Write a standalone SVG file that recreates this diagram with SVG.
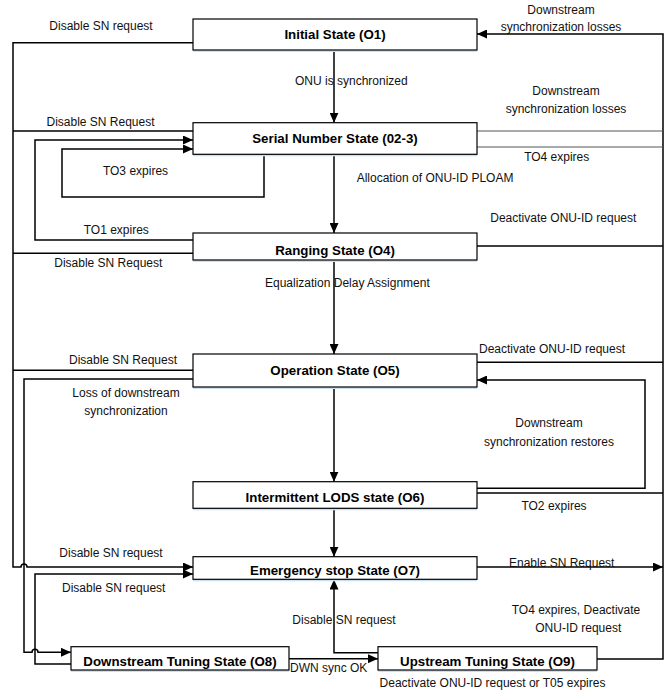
<svg xmlns="http://www.w3.org/2000/svg" width="670" height="695" viewBox="0 0 670 695">
<defs>
<marker id="ah" markerUnits="userSpaceOnUse" markerWidth="10" markerHeight="9" refX="10" refY="4.5" orient="auto">
<path d="M0,0 L10,4.5 L0,9 z" fill="#000"/>
</marker>
<style>
.box{fill:#fff;stroke:#000;stroke-width:1.2}
.sh{fill:#cfdff3}
.t{font-family:"Liberation Sans",Arial,sans-serif;font-size:13.3px;font-weight:bold;text-anchor:middle;fill:#000}
.l{font-family:"Liberation Sans",Arial,sans-serif;font-size:12px;fill:#111}
.m{text-anchor:middle}
.c{fill:none;stroke:#000;stroke-width:1.5}
.g{fill:none;stroke:#555;stroke-width:1}
.a{marker-end:url(#ah)}
</style>
</defs>
<rect width="670" height="695" fill="#fff"/>
<g id="connectors">
<path class="c a" d="M334,50 V122.7"/>
<path class="c a" d="M334,154.3 V233"/>
<path class="c a" d="M334,260 V354"/>
<path class="c a" d="M334,387 V481.7"/>
<path class="c a" d="M334,508.3 V556.7"/>
<path class="c a" d="M193,42.7 H13 V567 H21 A3,3 0 0 1 27,567 H193"/>
<path class="c" d="M193,131 H13"/>
<path class="c" d="M193,253.3 H13"/>
<path class="c" d="M193,370.3 H13"/>
<path class="c a" d="M193,379 H24 V652.3 H32 A3,3 0 0 1 38,652.3 H71"/>
<path class="c a" d="M71,664 H35 V574 H193"/>
<path class="c a" d="M193,240 H35 V140 H193"/>
<path class="c a" d="M264,154.3 V197 H62 V149 H193"/>
<path class="c a" d="M597,659 H663 V34 H477"/>
<path class="g" d="M477,131 H663"/>
<path class="g" d="M477,147 H663"/>
<path class="c" d="M477,246 H663"/>
<path class="c" d="M477,362.3 H663"/>
<path class="c" d="M477,493 H663"/>
<path class="c a" d="M477,567 H663"/>
<path class="c a" d="M477,488.3 H645 V380 H477"/>
<path class="c a" d="M378,652.7 H334 V579.5"/>
<path class="c a" d="M289,658.7 H378"/>
</g>
<g id="O1"><rect class="sh" x="193" y="21" width="284" height="31"/><rect class="box" x="193" y="19" width="284" height="31"/><text class="t" x="335" y="39">Initial State (O1)</text></g>
<g id="O2"><rect class="sh" x="193" y="124.7" width="284" height="31.6"/><rect class="box" x="193" y="122.7" width="284" height="31.6"/><text class="t" x="335" y="143">Serial Number State (02-3)</text></g>
<g id="O4"><rect class="sh" x="193" y="235" width="284" height="27"/><rect class="box" x="193" y="233" width="284" height="27"/><text class="t" x="335" y="254.5">Ranging State (O4)</text></g>
<g id="O5"><rect class="sh" x="193" y="356" width="284" height="33"/><rect class="box" x="193" y="354" width="284" height="33"/><text class="t" x="335" y="374.5">Operation State (O5)</text></g>
<g id="O6"><rect class="sh" x="193" y="483.7" width="284" height="26.6"/><rect class="box" x="193" y="481.7" width="284" height="26.6"/><text class="t" x="335" y="502">Intermittent LODS state (O6)</text></g>
<g id="O7"><rect class="sh" x="193" y="558.7" width="284" height="22.6"/><rect class="box" x="193" y="556.7" width="284" height="22.6"/><text class="t" x="335" y="574.5">Emergency stop State (O7)</text></g>
<g id="O8"><rect class="sh" x="71" y="648.7" width="218" height="23.3"/><rect class="box" x="71" y="646.7" width="218" height="23.3"/><text class="t" x="180" y="665.5">Downstream Tuning State (O8)</text></g>
<g id="O9"><rect class="sh" x="378" y="648.7" width="219" height="23.3"/><rect class="box" x="378" y="646.7" width="219" height="23.3"/><text class="t" x="487.5" y="665.5">Upstream Tuning State (O9)</text></g>
<g id="labels">
<text class="l m" x="101" y="30">Disable SN request</text>
<text class="l" x="295" y="85">ONU is synchronized</text>
<text class="l m" x="561" y="13.6">Downstream</text>
<text class="l m" x="561" y="31.3">synchronization losses</text>
<text class="l m" x="100.5" y="125.5">Disable SN Request</text>
<text class="l m" x="566" y="95">Downstream</text>
<text class="l m" x="566" y="112.5">synchronization losses</text>
<text class="l m" x="135.5" y="174.5">TO3 expires</text>
<text class="l m" x="556.7" y="160.5">TO4 expires</text>
<text class="l" x="356.7" y="182">Allocation of ONU-ID PLOAM</text>
<text class="l m" x="116.3" y="234">TO1 expires</text>
<text class="l m" x="563.3" y="222">Deactivate ONU-ID request</text>
<text class="l m" x="108.3" y="267">Disable SN Request</text>
<text class="l" x="265" y="287">Equalization Delay Assignment</text>
<text class="l m" x="123" y="363.7">Disable SN Request</text>
<text class="l" x="479" y="353">Deactivate ONU-ID request</text>
<text class="l m" x="126" y="397">Loss of downstream</text>
<text class="l m" x="126" y="414.8">synchronization</text>
<text class="l m" x="549" y="427">Downstream</text>
<text class="l m" x="549" y="445.5">synchronization restores</text>
<text class="l m" x="554" y="509.5">TO2 expires</text>
<text class="l m" x="111" y="557">Disable SN request</text>
<text class="l m" x="561.7" y="567">Enable SN Request</text>
<text class="l m" x="113.7" y="591.5">Disable SN request</text>
<text class="l m" x="344" y="624">Disable SN request</text>
<text class="l m" x="576" y="614">TO4 expires, Deactivate</text>
<text class="l m" x="578.3" y="631.5">ONU-ID request</text>
<text class="l" x="290" y="672">DWN sync OK</text>
<text class="l m" x="492.5" y="687">Deactivate ONU-ID request or T05 expires</text>
</g>
</svg>
